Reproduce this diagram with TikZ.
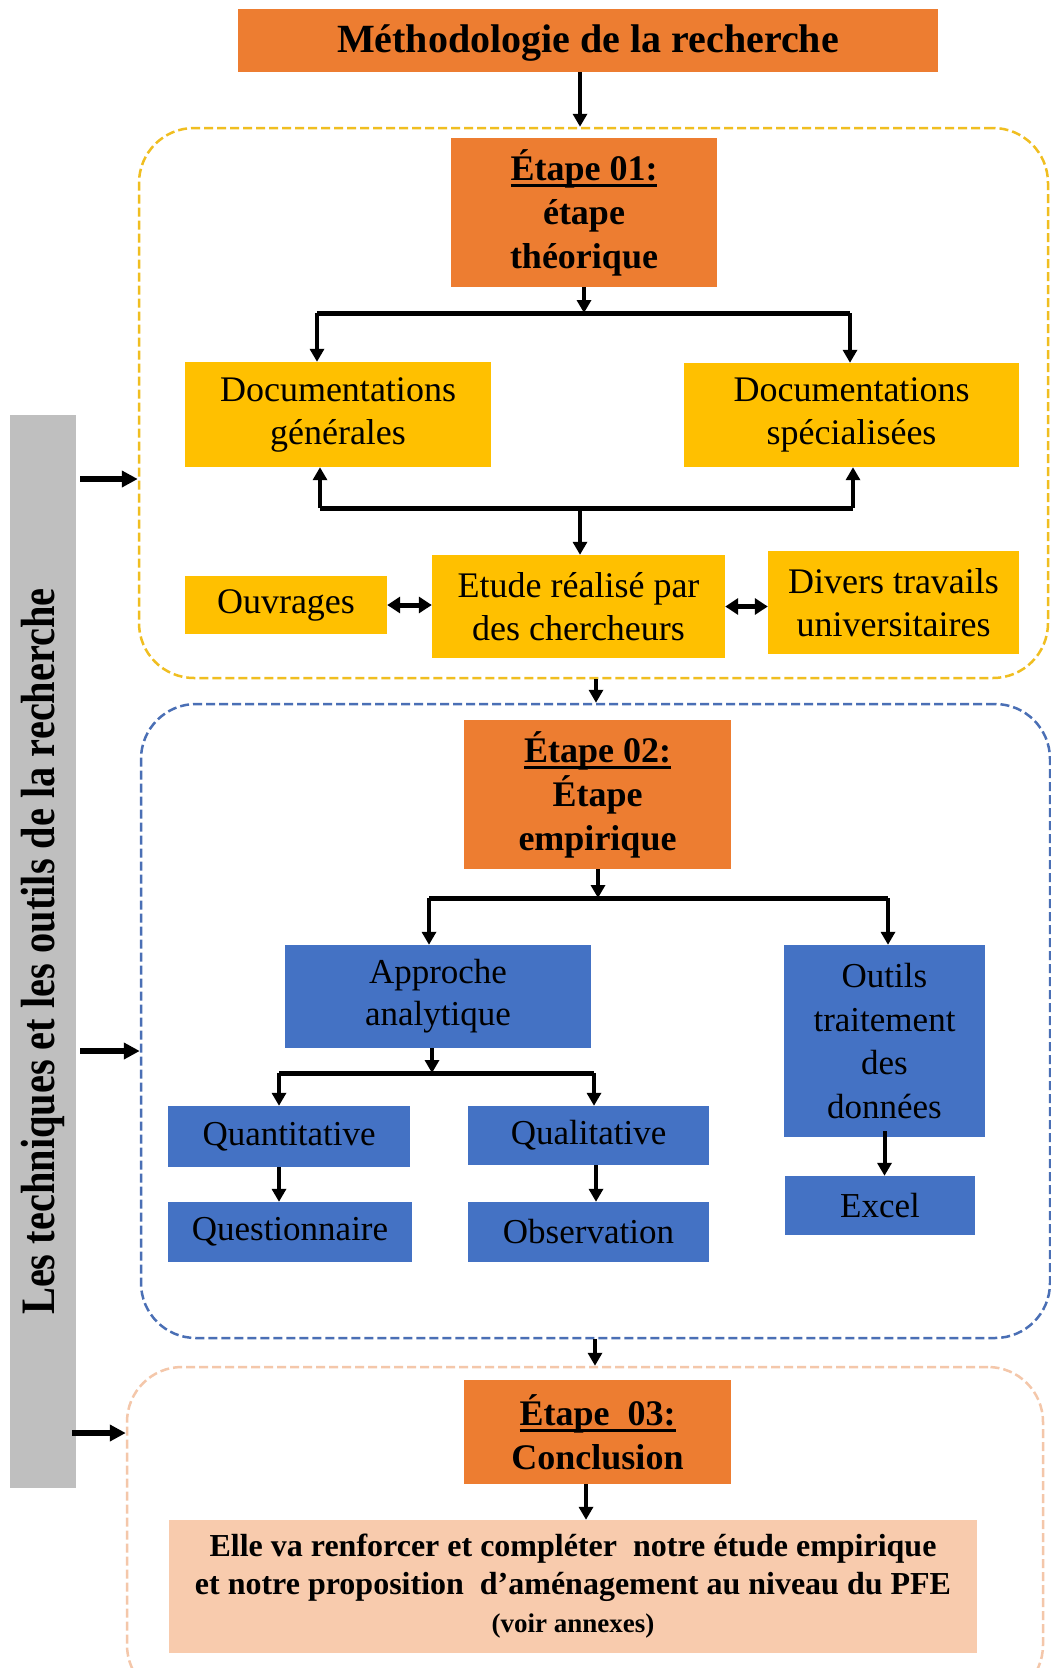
\documentclass[tikz,border=0pt]{standalone}
\usepackage{fontspec}
\setmainfont{Liberation Serif}
\usetikzlibrary{arrows.meta,calc}
\definecolor{corange}{HTML}{ED7D31}
\definecolor{cyellow}{HTML}{FFC000}
\definecolor{cblue}{HTML}{4472C4}
\definecolor{cpeach}{HTML}{F8CBAD}
\definecolor{cgray}{HTML}{BFBFBF}
\definecolor{dyellow}{HTML}{F0BE20}
\definecolor{dblue}{HTML}{4A6FB5}
\definecolor{dpeach}{HTML}{F4C7AA}
\newcommand\ulx[1]{\setbox0\hbox{#1}\rlap{\rule[-7pt]{\wd0}{2.8pt}}\box0}
\begin{document}
\begin{tikzpicture}[x=1pt,y=-1pt,
  box/.style={rectangle, inner sep=0pt, align=center, text=black},
  obox/.style={box, fill=corange, font=\fontsize{36}{44}\selectfont\bfseries},
  ybox/.style={box, fill=cyellow, font=\fontsize{36}{43}\selectfont},
  bbox/.style={box, fill=cblue, font=\fontsize{35}{42}\selectfont},
  frame/.style={rectangle, inner sep=0pt, line width=2.5pt, dash pattern=on 9pt off 4pt, rounded corners=55pt},
  arr/.style={line width=4pt, -{Triangle[length=13pt,width=14pt]}},
  darr/.style={line width=5pt, {Triangle[length=13pt,width=16pt]}-{Triangle[length=13pt,width=16pt]}},
  garr/.style={line width=5.5pt, -{Triangle[length=16pt,width=16pt]}},
  bline/.style={line width=5pt}]
\useasboundingbox (0,0) rectangle (1051,1668);
\clip (0,0) rectangle (1051,1668);
\fill[white] (0,0) rectangle (1051,1668);
% frames
\node[frame, draw=dyellow, minimum width=909, minimum height=550] (yel) at (593.5,403) {};
\node[frame, draw=dblue, minimum width=909, minimum height=634] (blu) at (595.5,1021) {};
\node[frame, draw=dpeach, minimum width=916, minimum height=333] (pea) at (585,1533.5) {};
% gray bar
\node[box, fill=cgray, minimum width=66, minimum height=1073] (gray) at (43,951.5) {};
\node[rotate=90, inner sep=0pt, font=\fontsize{40}{48}\selectfont\bfseries] (vt) at (gray.center) {\scalebox{1.01}[1.2]{Les techniques et les outils de la recherche}};
% boxes
\node[box, fill=corange, minimum width=700, minimum height=63, text depth=3pt, font=\fontsize{40}{48}\selectfont\bfseries] (title) at (588,40.5) {Méthodologie de la recherche};
\node[obox, minimum width=266, minimum height=149] (e1) at (584,212.5) {\ulx{Étape 01:}\\étape\\théorique};
\node[ybox, minimum width=306, minimum height=105] (dg) at (338,414.5) {Documentations\\générales};
\node[ybox, minimum width=335, minimum height=104] (ds) at (851.5,415) {Documentations\\spécialisées};
\node[ybox, minimum width=293, minimum height=103] (etude) at (578.5,606.5) {Etude réalisé par\\des chercheurs};
\node[ybox, minimum width=202, minimum height=58] (ouv) at (286,605) {Ouvrages};
\node[ybox, minimum width=251, minimum height=103] (div) at (893.5,602.5) {Divers travails\\universitaires};
\node[obox, minimum width=267, minimum height=149] (e2) at (597.5,794.5) {\ulx{Étape 02:}\\Étape\\empirique};
\node[bbox, minimum width=306, minimum height=103] (appr) at (438,996.5) {Approche\\analytique};
\node[bbox, minimum width=201, minimum height=192, font=\fontsize{35}{43.5}\selectfont] (outils) at (884.5,1041) {Outils\\traitement\\des\\données};
\node[bbox, minimum width=242, minimum height=61] (quant) at (289,1136.5) {Quantitative};
\node[bbox, minimum width=241, minimum height=59] (qual) at (588.5,1135.5) {Qualitative};
\node[bbox, minimum width=244, minimum height=60] (quest) at (290,1232) {Questionnaire};
\node[bbox, minimum width=241, minimum height=60] (obs) at (588.5,1232) {Observation};
\node[bbox, minimum width=190, minimum height=59] (excel) at (880,1205.5) {Excel};
\node[obox, minimum width=267, minimum height=104] (e3) at (597.5,1432) {\ulx{Étape\ \ 03:}\\Conclusion};
\node[box, fill=cpeach, minimum width=808, minimum height=133, font=\fontsize{32}{38}\selectfont\bfseries] (concl) at (573,1586.5) {Elle va renforcer et compléter\ \ notre étude empirique\\et notre proposition\ \ d’aménagement au niveau du PFE\\{\fontsize{27}{32}\selectfont (voir annexes)}};
% coordinates
\coordinate (t1) at (580,72);
\coordinate (b1) at (584,313);
\coordinate (b1l) at (317,313);
\coordinate (b1r) at (850,313);
\coordinate (b2) at (580,508);
\coordinate (b2l) at (320,508);
\coordinate (b2r) at (853,508);
\coordinate (y2) at (596,677);
\coordinate (b3) at (598,898);
\coordinate (b3l) at (429,898);
\coordinate (b3r) at (888,898);
\coordinate (b4) at (432,1073);
\coordinate (b4l) at (279,1073);
\coordinate (b4r) at (594,1073);
\coordinate (q2) at (596,1167);
\coordinate (p2) at (595,1338);
\coordinate (c3) at (586,1484);
\coordinate (g1) at (80,479);
\coordinate (g2) at (80,1051);
\coordinate (g3) at (72,1433);
% connectors
\draw[arr] (t1) -- (t1 |- yel.north);
\draw[arr] (b1 |- e1.south) -- (b1);
\draw[bline] (b1l) -- (b1r);
\draw[arr] (b1l) -- (b1l |- dg.north);
\draw[arr] (b1r) -- (b1r |- ds.north);
\draw[bline] (b2l) -- (b2r);
\draw[arr] (b2l) -- (b2l |- dg.south);
\draw[arr] (b2r) -- (b2r |- ds.south);
\draw[arr] (b2) -- (b2 |- etude.north);
\draw[darr] (ouv.east) -- (ouv.east -| etude.west);
\draw[darr] (etude.east) -- (etude.east -| div.west);
\draw[arr] (y2 |- yel.south) -- (y2 |- blu.north);
\draw[arr] (b3 |- e2.south) -- (b3);
\draw[bline] (b3l) -- (b3r);
\draw[arr] (b3l) -- (b3l |- appr.north);
\draw[arr] (b3r) -- (b3r |- outils.north);
\draw[arr] (b4 |- appr.south) -- (b4);
\draw[bline] (b4l) -- (b4r);
\draw[arr] (b4l) -- (b4l |- quant.north);
\draw[arr] (b4r) -- (b4r |- qual.north);
\draw[arr] (b4l |- quant.south) -- (b4l |- quest.north);
\draw[arr] (q2 |- qual.south) -- (q2 |- obs.north);
\draw[arr] ([yshift=6pt]outils.south) -- (outils.south |- excel.north);
\draw[arr] (p2 |- blu.south) -- (p2 |- pea.north);
\draw[arr] (c3 |- e3.south) -- (c3 |- concl.north);
\draw[garr] (g1) -- (g1 -| yel.west);
\draw[garr] (g2) -- (g2 -| blu.west);
\draw[garr] (g3) -- (g3 -| pea.west);
\end{tikzpicture}
\end{document}
